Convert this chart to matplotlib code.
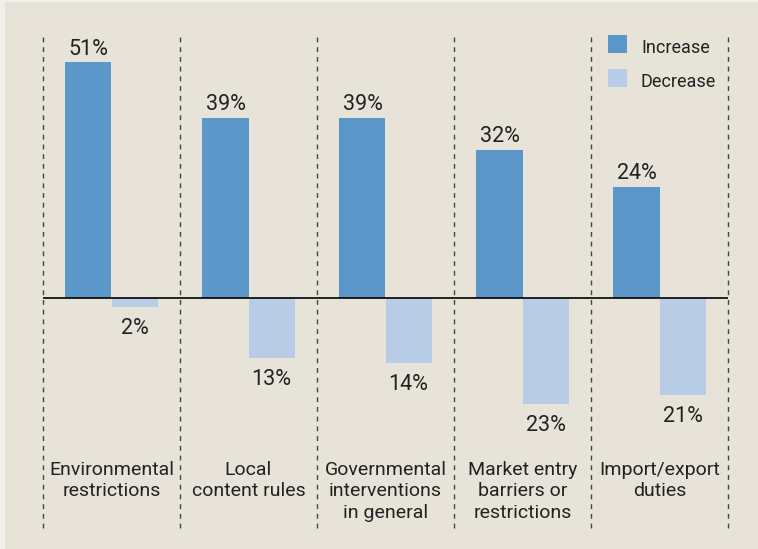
import matplotlib
matplotlib.use('Agg')
import matplotlib.pyplot as plt
from matplotlib.patches import Rectangle

categories = ['Environmental\nrestrictions', 'Local\ncontent rules',
              'Governmental\ninterventions\nin general',
              'Market entry\nbarriers or\nrestrictions', 'Import/export\nduties']
increase = [51, 39, 39, 32, 24]
decrease = [2, 13, 14, 23, 21]

c_inc = '#5B97C9'
c_dec = '#B8CDE5'
bg = '#E7E3D9'
txt = '#222222'
plt.rcParams['font.family'] = ['Roboto', 'DejaVu Sans']

W, H = 758, 549
fig = plt.figure(figsize=(W / 100, H / 100), dpi=100, facecolor='#F1EFEA')
fig.patches.append(Rectangle((5 / W, 0), 1, 1 - 2 / H, transform=fig.transFigure,
                             facecolor=bg, edgecolor='none', zorder=-10))

# axes placed in pixels: x 43..728, y 35..528 (zero line at y=298)
scale = 4.62
ytop = (298 - 35) / scale
ybot = -(528 - 298) / scale
ax = fig.add_axes([43 / W, 1 - 528 / H, 685 / W, 493 / H])
ax.set_xlim(0, 5)
ax.set_ylim(ybot, ytop)
ax.set_facecolor('none')
for s in ax.spines.values():
    s.set_visible(False)
ax.set_xticks([]); ax.set_yticks([])

bw = 0.336
n = len(categories)
for i in range(n + 1):
    ax.axvline(i, color='#444444', lw=1.0, ls=(0, (3.5, 3.5)), zorder=1, clip_on=False)
ax.axhline(0, color='black', lw=1.2, zorder=3)

xs = [i + 0.5 for i in range(n)]
ax.bar([x - bw / 2 for x in xs], increase, width=bw, color=c_inc, zorder=2)
ax.bar([x + bw / 2 for x in xs], [-d for d in decrease], width=bw, color=c_dec, zorder=2)

for x, v in zip(xs, increase):
    ax.text(x - bw / 2, v + 0.6, f'{v}%', ha='center', va='bottom', fontsize=15.5, color=txt)
for x, v in zip(xs, decrease):
    ax.text(x + bw / 2, -v - 2.4, f'{v}%', ha='center', va='top', fontsize=15.5, color=txt)

for x, lab in zip(xs, categories):
    ax.text(x, -(461 - 298) / scale, lab, ha='center', va='top', fontsize=14,
            color=txt, linespacing=1.25)

# legend
for j, (lab, c) in enumerate([('Increase', c_inc), ('Decrease', c_dec)]):
    y0 = 35 + j * 34
    fig.patches.append(Rectangle((608 / W, 1 - (y0 + 18) / H), 19 / W, 18 / H,
                                 transform=fig.transFigure, facecolor=c, edgecolor='none'))
    fig.text(641 / W, 1 - (y0 + 18.3) / H, lab, ha='left', va='baseline', fontsize=13, color=txt)

fig.savefig('out.png', dpi=100, facecolor=fig.get_facecolor())
